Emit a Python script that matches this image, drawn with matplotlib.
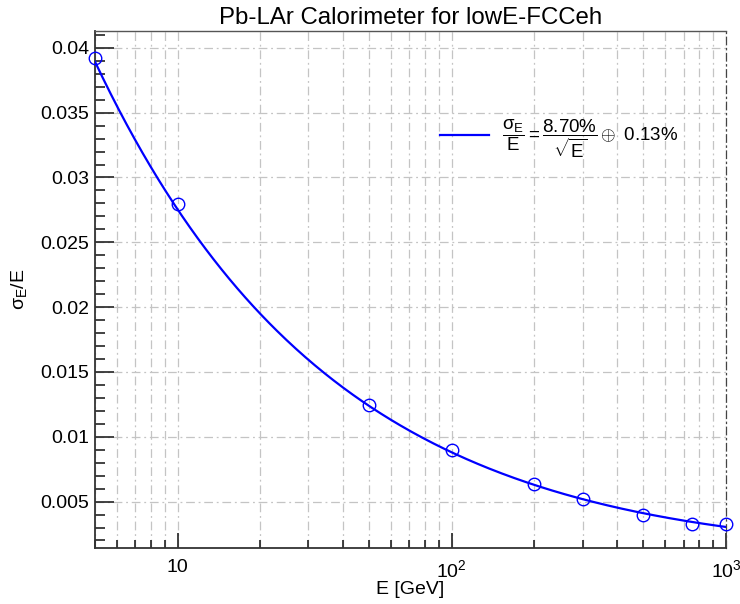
import numpy as np
import matplotlib
matplotlib.use("Agg")
import matplotlib.pyplot as plt
from matplotlib.ticker import FixedLocator, MultipleLocator, NullFormatter, FixedFormatter

plt.rcParams['font.family'] = ['Liberation Sans', 'DejaVu Sans']
plt.rcParams['mathtext.fontset'] = 'custom'
plt.rcParams['mathtext.rm'] = 'Liberation Sans'
plt.rcParams['mathtext.it'] = 'Liberation Sans'
plt.rcParams['mathtext.sf'] = 'Liberation Sans'

energy = [5, 10, 50, 100, 200, 300, 500, 750, 1000]
resolution = [0.03923, 0.02792, 0.01242, 0.00898, 0.00633, 0.00518, 0.00397, 0.00325, 0.00330]
stoch_term = 0.0870
const_term = 0.0013
x_major = [10, 100, 1000]
x_major_labels = ["10", r"$10^{2}$", r"$10^{3}$"]
y_major = [0.005, 0.01, 0.015, 0.02, 0.025, 0.03, 0.035, 0.04]
y_major_labels = ["0.005", "0.01", "0.015", "0.02", "0.025", "0.03", "0.035", "0.04"]

fig = plt.figure(figsize=(7.4, 6.04), dpi=100)
ax = fig.add_axes([0.1284, 0.0927, 0.8527, 0.856])

xf = np.logspace(np.log10(5), np.log10(1000), 400)
yf = np.sqrt((stoch_term / np.sqrt(xf))**2 + const_term**2)
ax.plot(xf, yf, color='#0000ff', lw=1.6, zorder=3)
ax.plot(energy, resolution, 'o', mfc='none', mec='#0000ff', ms=9, mew=1.0, zorder=4, clip_on=False)

ax.set_xscale('log')
ax.set_xlim(5, 1000)
ax.set_ylim(0.00142, 0.0413)

minors = [m * 10**d for d in range(0, 3) for m in range(2, 10)]
minors = [v for v in minors if 5 <= v <= 1000 and v not in x_major]
ax.xaxis.set_major_locator(FixedLocator(x_major))
ax.xaxis.set_major_formatter(FixedFormatter(x_major_labels))
ax.xaxis.set_minor_locator(FixedLocator(minors))
ax.xaxis.set_minor_formatter(NullFormatter())
ax.yaxis.set_major_locator(FixedLocator(y_major))
ax.yaxis.set_major_formatter(FixedFormatter(y_major_labels))
ax.yaxis.set_minor_locator(MultipleLocator(0.001))

ax.tick_params(which='both', direction='in', top=False, right=False, labelsize=14, width=1.2, color='#222222')
ax.tick_params(axis='y', which='major', length=14, pad=4)
ax.tick_params(axis='y', which='minor', length=7)
ax.tick_params(axis='x', which='major', length=11, pad=8)
ax.tick_params(axis='x', which='minor', length=6)

gkw = dict(color='#c4c4c4', lw=0.9, ls=(0, (7, 3, 1.5, 3)))
ax.grid(True, which='major', axis='both', **gkw)
ax.grid(True, which='minor', axis='x', **gkw)

for s in ['left', 'bottom']:
    ax.spines[s].set_linewidth(1.3)
    ax.spines[s].set_color('#333333')
ax.spines['top'].set_linewidth(1.0)
ax.spines['top'].set_color('#555555')
ax.spines['right'].set_linestyle((0, (6, 3, 1, 3)))
ax.spines['right'].set_color('#444444')
ax.spines['right'].set_linewidth(0.9)

ax.set_title('Pb-LAr Calorimeter for lowE-FCCeh', fontsize=17.3, pad=5)
ax.set_xlabel('E [GeV]', fontsize=14, labelpad=0)
ax.set_ylabel(r'$\sigma_{E}$/E', fontsize=14, labelpad=8)

leg_label = r'$\dfrac{\sigma_{E}}{E} = \dfrac{8.70\%}{\sqrt{E}} \oplus\ 0.13\%$'
ax.legend([plt.Line2D([], [], color='#0000ff', lw=1.6)], [leg_label],
          loc='center left', bbox_to_anchor=(0.547, 0.791), frameon=False,
          borderaxespad=0, borderpad=0,
          fontsize=13.5, handlelength=2.6, handletextpad=0.7)

fig.savefig('out.png', dpi=100)
